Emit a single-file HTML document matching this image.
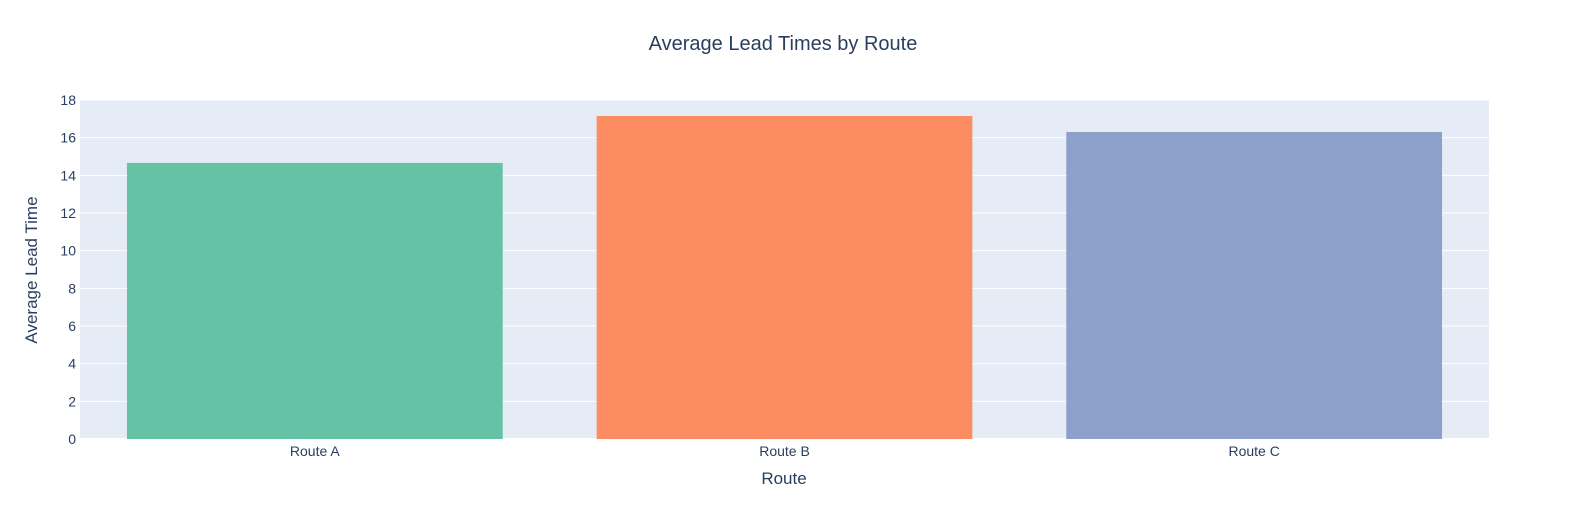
<!DOCTYPE html>
<html><head><meta charset="utf-8"><style>
body{margin:0;background:#fff;font-family:"Liberation Sans",Arial,sans-serif;}
svg text{font-family:"Liberation Sans",Arial,sans-serif;}
</style></head><body>
<svg id="chart" width="1586" height="525">
<rect x="0" y="0" width="1586" height="525" fill="#fff"/>
<text x="783" y="50" text-anchor="middle" font-size="20" fill="#2a3f5f">Average Lead Times by Route</text>
<rect x="80" y="100" width="1409" height="339" fill="#e5ecf6"/>
<g id="grid"></g><g id="bars"></g><g id="ticks"></g>
<text x="784" y="484" text-anchor="middle" font-size="17" fill="#2a3f5f">Route</text>
<text transform="translate(37,270) rotate(-90)" text-anchor="middle" font-size="17" fill="#2a3f5f">Average Lead Time</text>
</svg>
<script>
const categories=["Route A","Route B","Route C"];
const values=[14.66,17.15,16.3];
const colors=["#66c2a5","#fc8d62","#8da0cb"];
const yTicks=[0,2,4,6,8,10,12,14,16,18];
const X0=80,W=1409,Y0=439,H=339,YMAX=18;
const ns="http://www.w3.org/2000/svg";
function y(v){return Y0-v/YMAX*H;}
function xc(i){return X0+W/categories.length*(i+0.5);}
const g=document.getElementById('grid'),b=document.getElementById('bars'),t=document.getElementById('ticks');
yTicks.forEach(v=>{
 const l=document.createElementNS(ns,'line');
 
 
 l.setAttribute('x1',X0);l.setAttribute('x2',X0+W);l.setAttribute('y1',y(v));l.setAttribute('y2',y(v));
 l.setAttribute('stroke','#fff');l.setAttribute('stroke-width',v===0?2:1);g.appendChild(l);
 const tx=document.createElementNS(ns,'text');
 
 
 tx.setAttribute('x',X0-4);tx.setAttribute('y',y(v)+5);tx.setAttribute('text-anchor','end');
 tx.setAttribute('font-size','14');tx.setAttribute('fill','#2a3f5f');tx.textContent=v;t.appendChild(tx);
});
const bw=W/categories.length*0.8;
categories.forEach((c,i)=>{
 const r=document.createElementNS(ns,'rect');
 
 
 r.setAttribute('x',xc(i)-bw/2);r.setAttribute('width',bw);
 r.setAttribute('y',y(values[i]));r.setAttribute('height',Y0-y(values[i]));
 r.setAttribute('fill',colors[i]);b.appendChild(r);
 const tx=document.createElementNS(ns,'text');
 
 
 tx.setAttribute('x',xc(i));tx.setAttribute('y',456);tx.setAttribute('text-anchor','middle');
 tx.setAttribute('font-size','14');tx.setAttribute('fill','#2a3f5f');tx.textContent=c;t.appendChild(tx);
});
</script>
</body></html>
